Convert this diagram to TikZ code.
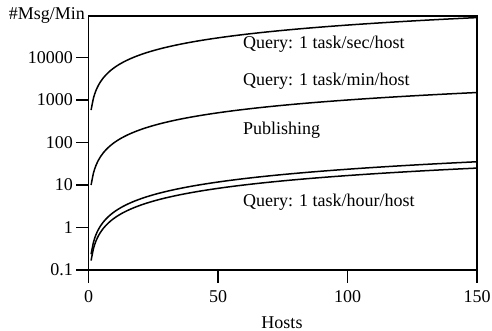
\documentclass[tikz,border=0pt]{standalone}
\usepackage{fontspec}
\setmainfont{Liberation Serif}
\begin{document}
\begin{tikzpicture}[x=1pt,y=-1pt,
  lbl/.style={font=\fontsize{18}{21}\selectfont, inner sep=0pt},
  axisline/.style={line width=1.4pt},
  curve/.style={line width=1.5pt, line join=round}]
\useasboundingbox (0,0) rectangle (492,331);
% frame and axes
\draw[axisline] (88.5,282) -- (88.5,16) -- (477,16) -- (477,283);
\draw[axisline] (76,270) -- (477,270);
% y ticks
\foreach \k/\t in {4/10000,3/1000,2/100,1/10,0/1,-1/0.1} {
  \draw[axisline] (76,{270-42.5*(\k+1)}) -- (88.5,{270-42.5*(\k+1)});
  \node[lbl, anchor=east] (y\k) at (73,{270-42.5*(\k+1)}) {\t};
}
% x ticks
\foreach \n in {0,50,100,150} {
  \draw[axisline] ({88.5+2.59*\n},270) -- ({88.5+2.59*\n},283);
  \node[lbl, anchor=north] (x\n) at ({88.5+2.59*\n},290) {\n};
}
% curves
\foreach \c in {2.763,1,-0.629,-0.778} {
  \draw[curve] plot[domain=1:150, samples=160, smooth]
    ({88.5+2.59*\x},{270-42.5*(\c+ln(\x)/2.302585+1)});
}
% labels
\node[lbl, anchor=base east] (ylab) at (85,20) {\#Msg/Min};
\node[lbl, anchor=base west] (lsec) at (243,48.5) {Query: 1 task/sec/host};
\node[lbl, anchor=base west] (lmin) at (243,85.5) {Query: 1 task/min/host};
\node[lbl, anchor=base west] (lpub) at (243,135) {Publishing};
\node[lbl, anchor=base west] (lhour) at (243,206.7) {Query: 1 task/hour/host};
\node[lbl, anchor=base] (xlab) at (282,328.5) {Hosts};
\end{tikzpicture}
\end{document}
